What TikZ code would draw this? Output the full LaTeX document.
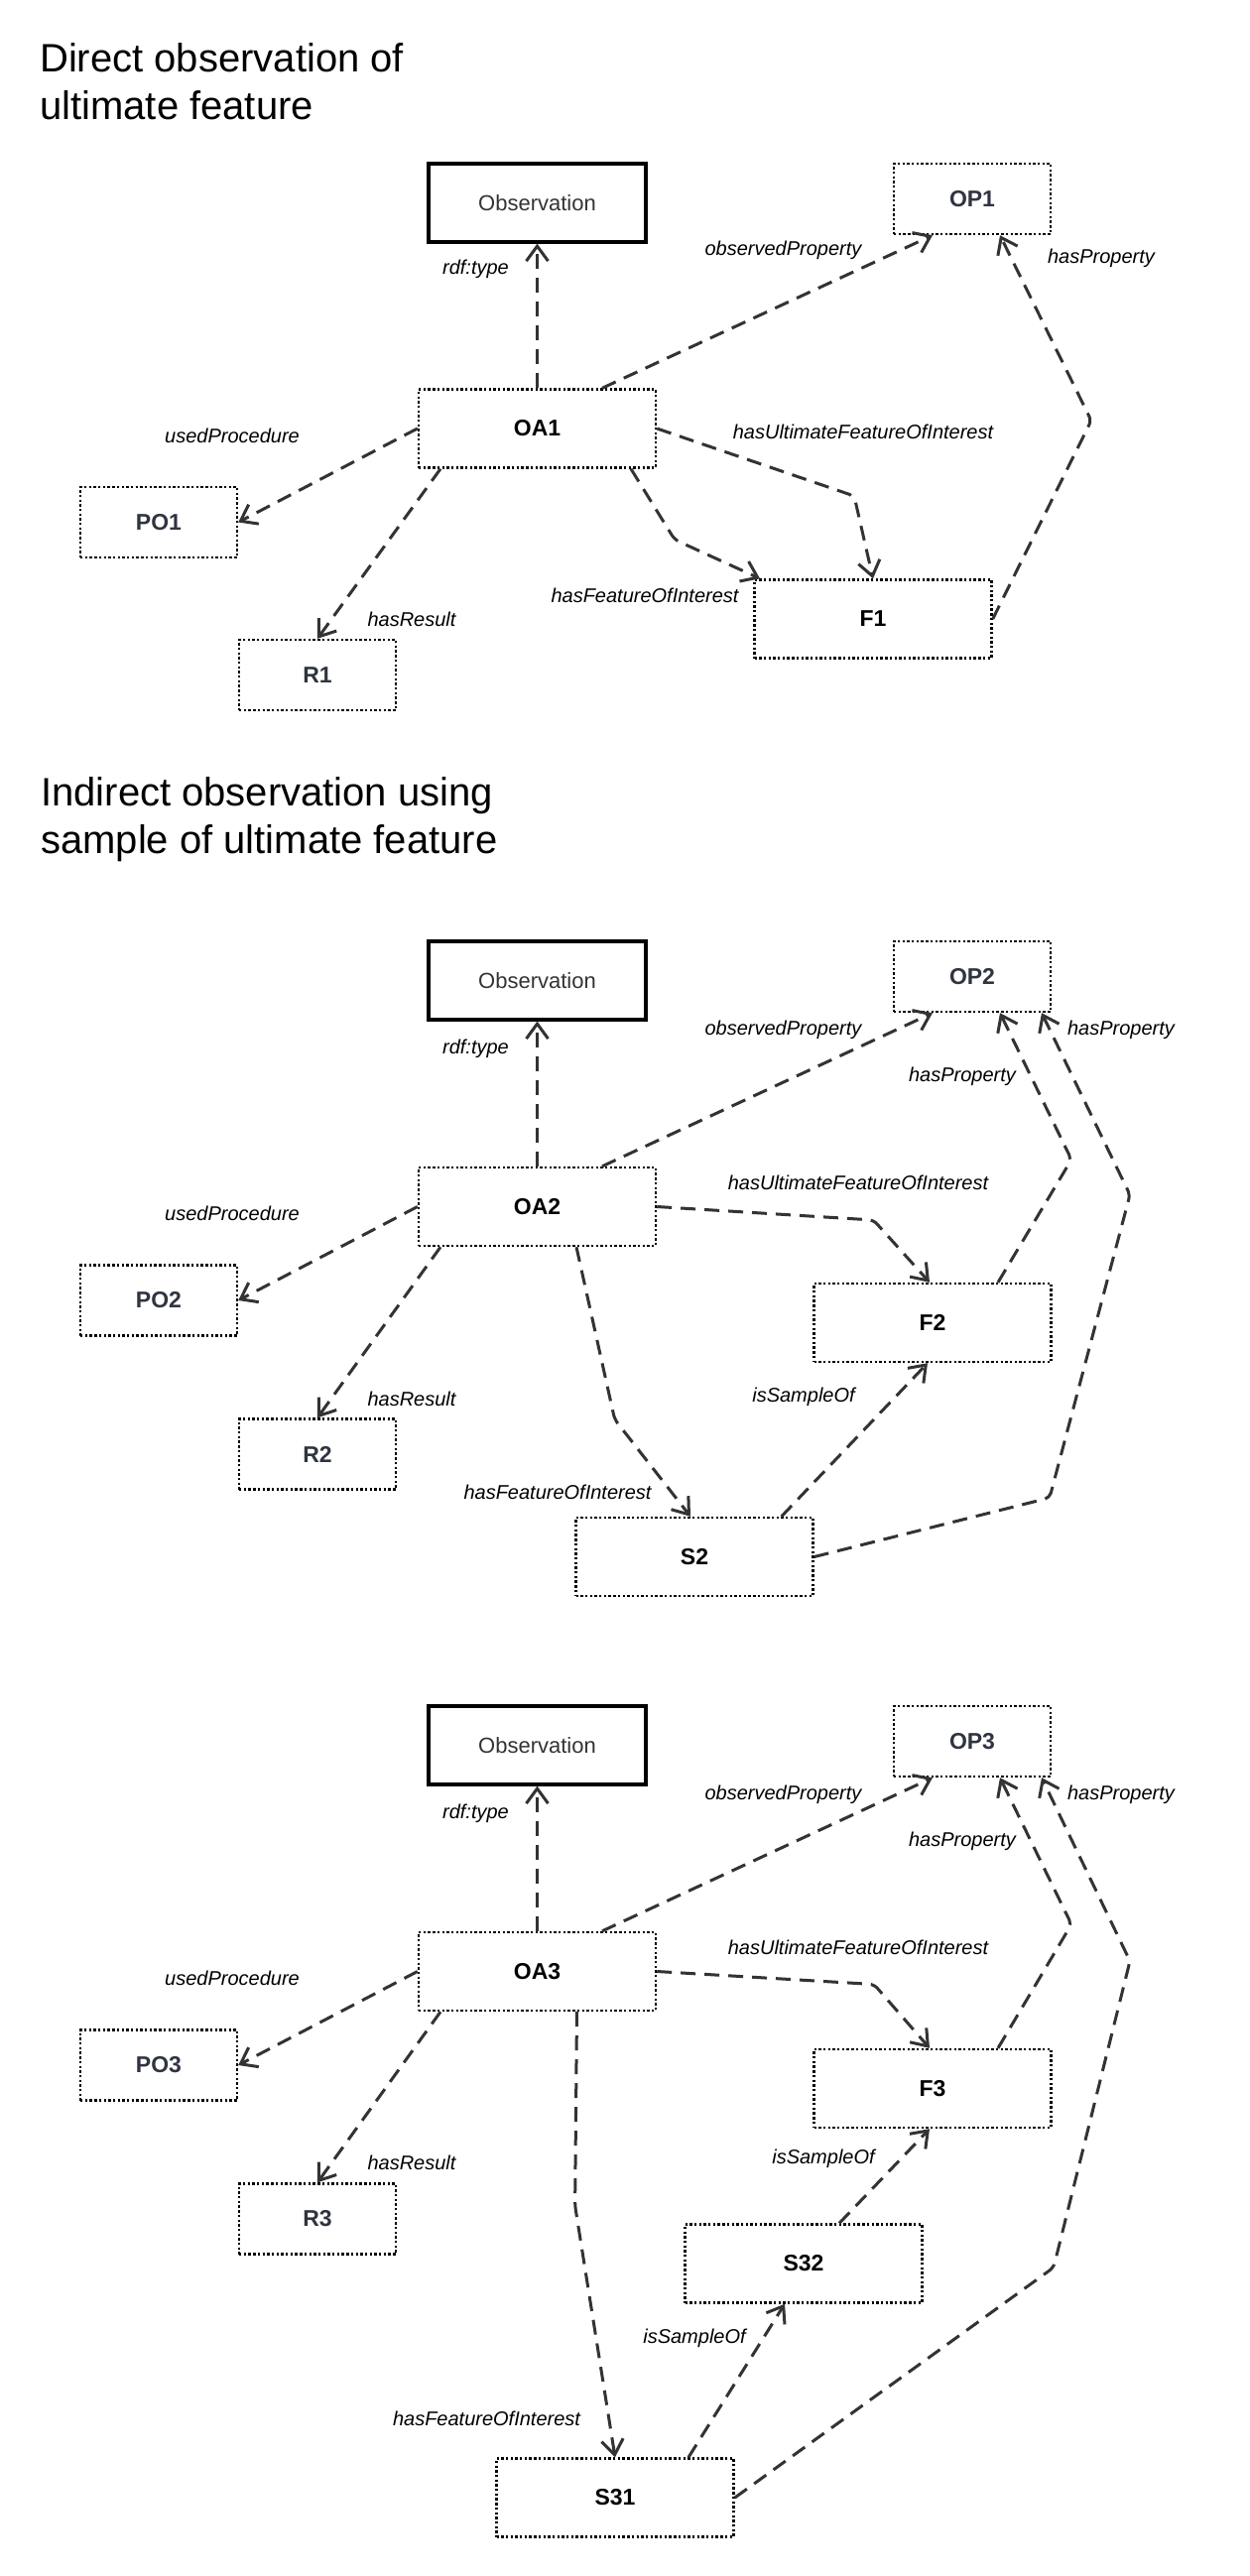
\documentclass[tikz,border=0pt]{standalone}
\usepackage{fontspec}
\setmainfont{Liberation Sans}
\usetikzlibrary{arrows.meta}
\definecolor{edgec}{HTML}{333333}
\definecolor{namec}{HTML}{2F3440}
\begin{document}
\begin{tikzpicture}[x=1pt,y=-1pt,
  titletext/.style={anchor=base west, inner sep=0pt, font=\fontsize{40}{48}\selectfont},
  classbox/.style={draw=black, line width=3.2pt, minimum width=219pt, minimum height=79pt, inner sep=0pt, text=edgec, font=\fontsize{22}{26}\selectfont},
  dotbox/.style={draw=black, line width=2.4pt, dash pattern=on 2.4pt off 2.3pt, line cap=butt, inner sep=0pt, font=\fontsize{23}{27}\selectfont\bfseries},
  smallbox/.style={dotbox, minimum width=158pt, minimum height=71pt, text=namec},
  bigbox/.style={dotbox, minimum width=239pt, minimum height=79pt, text=black},
  lbl/.style={inner sep=0pt, font=\fontsize{20}{24}\selectfont\itshape},
  conn/.style={draw=edgec, line width=3pt, dash pattern=on 15pt off 9pt, rounded corners=5pt,
    -{Straight Barb[length=15pt,width=22pt,line width=3pt]}},
]
\fill[white] (0,0) rectangle (1260,2597);
\useasboundingbox (0,0) rectangle (1260,2597);

% ---------------- Section 1 ----------------
\node[titletext] (t1a) at (40,72) {Direct observation of};
\node[titletext] (t1b) at (40,120) {ultimate feature};

\node[classbox] (Obs1) at (541.5,204.5) {Observation};
\node[smallbox] (OP1) at (980,200.5) {OP1};
\node[bigbox] (OA1) at (541.5,432) {OA1};
\node[smallbox] (PO1) at (160,526.5) {PO1};
\node[smallbox] (R1) at (320,680.5) {R1};
\node[bigbox] (F1) at (880,624) {F1};

\draw[conn] (OA1.north) -- (Obs1.south);
\draw[conn] ([xshift=65.5pt]OA1.north) -- ([xshift=-40pt]OP1.south);
\draw[conn] (OA1.west) -- (PO1.east);
\draw[conn] ([xshift=-97.5pt]OA1.south) -- (R1.north);
\draw[conn] ([xshift=94.5pt]OA1.south) -- (680,544) -- ([xshift=-114pt]F1.north);
\draw[conn] (OA1.east) -- (861,500) -- (F1.north);
\draw[conn] (F1.east) -- (1100,424) -- ([xshift=28pt]OP1.south);

\node[lbl] (l1a) at (479.5,271) {rdf:type};
\node[lbl] (l1b) at (789.5,252) {observedProperty};
\node[lbl] (l1c) at (234,439) {usedProcedure};
\node[lbl] (l1d) at (415,624) {hasResult};
\node[lbl] (l1e) at (650,600) {hasFeatureOfInterest};
\node[lbl] (l1f) at (870,435) {hasUltimateFeatureOfInterest};
\node[lbl] (l1g) at (1110,260) {hasProperty};

% ---------------- Section 2 ----------------
\node[titletext] (t2a) at (41,812) {Indirect observation using};
\node[titletext] (t2b) at (41,860) {sample of ultimate feature};

\node[classbox] (Obs2) at (541.5,988.5) {Observation};
\node[smallbox] (OP2) at (980,984.5) {OP2};
\node[bigbox] (OA2) at (541.5,1216.5) {OA2};
\node[smallbox] (PO2) at (160,1311) {PO2};
\node[smallbox] (R2) at (320,1466) {R2};
\node[bigbox] (F2) at (940,1333.5) {F2};
\node[bigbox] (S2) at (700,1569.5) {S2};

\draw[conn] (OA2.north) -- (Obs2.south);
\draw[conn] ([xshift=65.5pt]OA2.north) -- ([xshift=-40pt]OP2.south);
\draw[conn] (OA2.west) -- (PO2.east);
\draw[conn] ([xshift=-97.5pt]OA2.south) -- (R2.north);
\draw[conn] (OA2.east) -- (880.5,1230) -- ([xshift=-3pt]F2.north);
\draw[conn] ([xshift=39.5pt]OA2.south) -- (619.6,1431) -- ([xshift=-4pt]S2.north);
\draw[conn] ([xshift=87.7pt]S2.north) -- ([xshift=-5pt]F2.south);
\draw[conn] ([xshift=66pt]F2.north) -- (1080,1169) -- ([xshift=28pt]OP2.south);
\draw[conn] (S2.east) -- (1058,1510) -- (1139,1204.5) -- ([xshift=70pt]OP2.south);

\node[lbl] (l2a) at (479.5,1057) {rdf:type};
\node[lbl] (l2b) at (789.5,1038) {observedProperty};
\node[lbl] (l2c) at (234,1223) {usedProcedure};
\node[lbl] (l2d) at (415,1410) {hasResult};
\node[lbl] (l2e) at (865,1192) {hasUltimateFeatureOfInterest};
\node[lbl] (l2f) at (562,1504.5) {hasFeatureOfInterest};
\node[lbl] (l2g) at (810,1408.5) {isSampleOf};
\node[lbl] (l2h) at (970,1085) {hasProperty};
\node[lbl] (l2i) at (1130,1038) {hasProperty};

% ---------------- Section 3 ----------------
\node[classbox] (Obs3) at (541.5,1759.5) {Observation};
\node[smallbox] (OP3) at (980,1755.5) {OP3};
\node[bigbox] (OA3) at (541.5,1987.5) {OA3};
\node[smallbox] (PO3) at (160,2082) {PO3};
\node[smallbox] (R3) at (320,2237) {R3};
\node[bigbox] (F3) at (940,2105.5) {F3};
\node[bigbox] (S32) at (810,2282) {S32};
\node[bigbox] (S31) at (620,2518) {S31};

\draw[conn] (OA3.north) -- (Obs3.south);
\draw[conn] ([xshift=65.5pt]OA3.north) -- ([xshift=-40pt]OP3.south);
\draw[conn] (OA3.west) -- (PO3.east);
\draw[conn] ([xshift=-97.5pt]OA3.south) -- (R3.north);
\draw[conn] (OA3.east) -- (881,2000.5) -- ([xshift=-3pt]F3.north);
\draw[conn] ([xshift=40pt]OA3.south) -- (579.6,2223.5) -- (S31.north);
\draw[conn] ([xshift=36pt]S32.north) -- ([xshift=-3pt]F3.south);
\draw[conn] ([xshift=74pt]S31.north) -- ([xshift=-19pt]S32.south);
\draw[conn] ([xshift=66pt]F3.north) -- (1080,1940) -- ([xshift=28pt]OP3.south);
\draw[conn] (S31.east) -- (1062,2286) -- (1139,1977) -- ([xshift=70pt]OP3.south);

\node[lbl] (l3a) at (479.5,1828) {rdf:type};
\node[lbl] (l3b) at (789.5,1809) {observedProperty};
\node[lbl] (l3c) at (234,1994) {usedProcedure};
\node[lbl] (l3d) at (415,2180) {hasResult};
\node[lbl] (l3e) at (865,1963) {hasUltimateFeatureOfInterest};
\node[lbl] (l3f) at (490.5,2438) {hasFeatureOfInterest};
\node[lbl] (l3g) at (830,2176.5) {isSampleOf};
\node[lbl] (l3h) at (700,2357) {isSampleOf};
\node[lbl] (l3i) at (970,1856) {hasProperty};
\node[lbl] (l3j) at (1130,1809) {hasProperty};
\end{tikzpicture}
\end{document}
